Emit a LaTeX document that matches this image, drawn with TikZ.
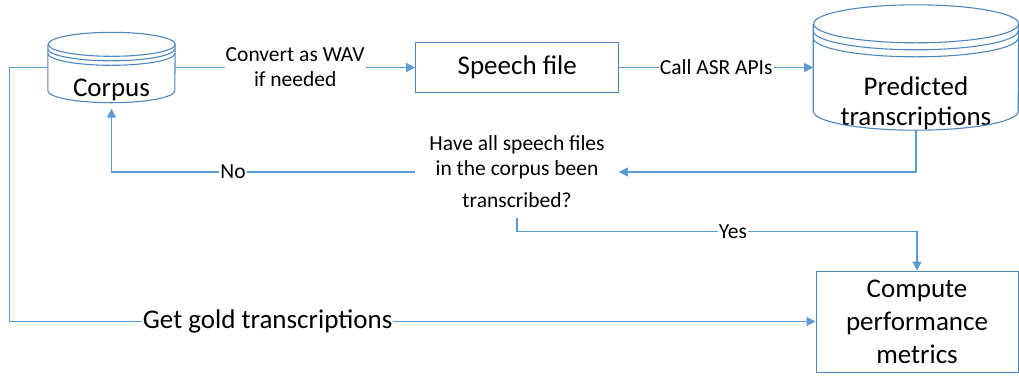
\documentclass[tikz,border=0pt]{standalone}
\usepackage{fontspec}
\setmainfont{Carlito}
\usepackage{tikz}
\usetikzlibrary{positioning}
\usetikzlibrary{arrows.meta}

\definecolor{linkblue}{HTML}{5B9BD5}
\definecolor{shapeblue}{HTML}{4F86C0}
\newcommand\bigfont{\fontsize{27pt}{30pt}\selectfont}
\newcommand\smallfont{\fontsize{21.5pt}{25pt}\selectfont}

% node, x radius, y radius, gap of the extra rims
\newcommand\drawdb[4]{%
  \draw[dbline] ([yshift=-#3]#1.north west) -- ([yshift=#3]#1.south west)
    arc[start angle=180, end angle=360, x radius=#2, y radius=#3]
    -- ([yshift=-#3]#1.north east)
    arc[start angle=0, end angle=360, x radius=#2, y radius=#3];
  \foreach \k in {1,2}
    \draw[dbline] ([yshift=-#3-\k*#4]#1.north west)
      arc[start angle=180, end angle=360, x radius=#2, y radius=#3];
}

\begin{document}
\begin{tikzpicture}[x=1pt,y=1pt]
\tikzstyle{db}=[rectangle, inner sep=0pt, draw=none]
\tikzstyle{dbline}=[draw=shapeblue, line width=1.1pt]
\tikzstyle{box}=[rectangle, draw=shapeblue, line width=1pt, font=\bigfont, align=center]
\tikzstyle{connect}=[-{Triangle[length=9pt,width=9pt]}, draw=linkblue, line width=1.2pt]
\tikzstyle{lab}=[font=\smallfont, fill=white, inner sep=1pt, align=center]
\useasboundingbox (0,0) rectangle (1019,-376);

  \node[db, minimum width=127pt, minimum height=70pt,
    label={[font=\bigfont, yshift=-22pt]center:Corpus}] (corpus) at (111.5,-67.5) {};
  \node[box, minimum width=203pt, minimum height=50pt] (speech) [right=240pt of corpus] {Speech file};
  \node[db, minimum width=205pt, minimum height=125pt,
    label={[font=\bigfont, align=center, yshift=-36pt]center:{Predicted\\transcriptions}}] (pred) [right=194pt of speech] {};
  \node[font=\smallfont, align=center, inner xsep=14pt, inner ysep=10pt] (check) at (517,-172) {Have all speech files\\in the corpus been\\[7pt]transcribed?};
  \node[box, minimum width=202pt, minimum height=101pt, font=\fontsize{27pt}{33pt}\selectfont] (metrics) at (917,-321.5) {Compute\\performance\\metrics};

  \drawdb{corpus}{63.5pt}{12pt}{4.5pt}
  \drawdb{pred}{102.5pt}{19pt}{7pt}

  \path (corpus) edge [connect] node[lab] {Convert as WAV\\if needed} (speech);
  \path (speech) edge [connect] node[lab] {Call ASR APIs} (pred);
  \draw[connect] (pred.south) |- (check.east);
  \draw[connect, shorten >=6pt] (check.west) -| node[lab, pos=0.3] {No} (corpus.south);
  \draw[connect] (check.south) -- ++(0,-13pt) -| node[lab, pos=0.27] {Yes} (metrics.north);
  \draw[connect] (corpus.west) -- ++(-38pt,0) |- node[lab, font=\bigfont, pos=0.66] {Get gold transcriptions} (metrics.west);
\end{tikzpicture}
\end{document}
